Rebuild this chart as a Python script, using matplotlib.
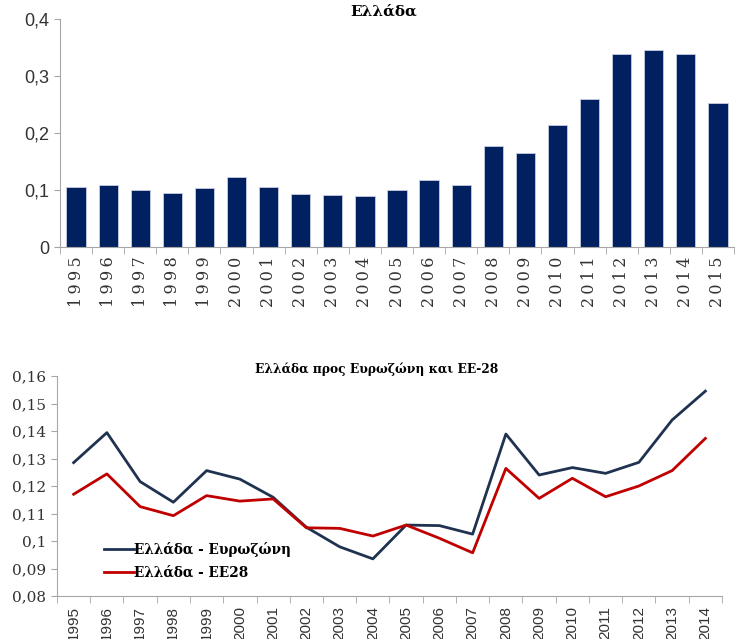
import matplotlib
matplotlib.use("Agg")
import matplotlib.pyplot as plt
from matplotlib.ticker import FixedLocator
import numpy as np

# top chart data
barYears = [str(y) for y in range(1995, 2016)]
barValues = [0.105, 0.108, 0.100, 0.095, 0.103, 0.123, 0.106, 0.093, 0.091, 0.089,
             0.100, 0.117, 0.108, 0.177, 0.165, 0.214, 0.260, 0.339, 0.346, 0.339, 0.253]
barTicks = [0, 0.1, 0.2, 0.3, 0.4]
barTickLabels = ["0", "0,1", "0,2", "0,3", "0,4"]

# bottom chart data
lineYears = [str(y) for y in range(1995, 2015)]
euroZone = [0.1285, 0.1394, 0.1216, 0.1141, 0.1256, 0.1225, 0.1159, 0.1050, 0.0979, 0.0935,
            0.1058, 0.1056, 0.1025, 0.1389, 0.1240, 0.1267, 0.1246, 0.1286, 0.1440, 0.1545]
eu28 = [0.1170, 0.1244, 0.1125, 0.1092, 0.1165, 0.1145, 0.1153, 0.1048, 0.1046, 0.1018,
        0.1058, 0.1010, 0.0957, 0.1264, 0.1155, 0.1228, 0.1161, 0.1200, 0.1256, 0.1373]
lineTicks = [0.08, 0.09, 0.10, 0.11, 0.12, 0.13, 0.14, 0.15, 0.16]
lineTickLabels = ["0,08", "0,09", "0,1", "0,11", "0,12", "0,13", "0,14", "0,15", "0,16"]

W, H = 739, 639
fig = plt.figure(figsize=(W / 100, H / 100), dpi=100)

axisColor = "#a6a6a6"

def styleAxis(ax, n):
    for s in ["top", "right"]:
        ax.spines[s].set_visible(False)
    ax.spines["left"].set_color(axisColor)
    ax.spines["bottom"].set_color(axisColor)
    ax.set_xlim(-0.5, n - 0.5)
    ax.set_xticks(range(n))
    ax.tick_params(axis="x", which="major", length=0, pad=7)
    ax.xaxis.set_minor_locator(FixedLocator(np.arange(-0.5, n, 1.0)))
    ax.tick_params(axis="x", which="minor", length=5, color=axisColor)
    ax.tick_params(axis="y", length=4, color=axisColor, pad=4)

# --- top: bar chart ---
ax1 = fig.add_axes([60 / W, 1 - 247 / H, (734 - 60) / W, (247 - 19) / H])
ax1.bar(range(len(barYears)), barValues, width=0.6, color="#002060", edgecolor="#c9cde0", linewidth=0.6)
styleAxis(ax1, len(barYears))
ax1.set_ylim(0, 0.4)
ax1.set_yticks(barTicks)
ax1.set_yticklabels(barTickLabels, family=["Liberation Sans Narrow", "Liberation Sans"], fontsize=13, color="#333333")
# the years in the top chart are letter-spaced
spaced = ["\u2009".join(y) for y in barYears]
ax1.set_xticklabels(spaced, rotation=90, family="DejaVu Serif", fontsize=11.5, color="#333333")
ax1.set_title("Ελλάδα", family="DejaVu Serif", fontweight="bold", fontsize=11, pad=-2, x=0.48)

# --- bottom: line chart ---
ax2 = fig.add_axes([57 / W, 43 / H, (722 - 57) / W, (596 - 376) / H])
x = range(len(lineYears))
ax2.plot(x, euroZone, color="#1f3350", linewidth=2, label="Ελλάδα - Ευρωζώνη")
ax2.plot(x, eu28, color="#c00000", linewidth=2, label="Ελλάδα - ΕΕ28")
styleAxis(ax2, len(lineYears))
ax2.set_ylim(0.08, 0.16)
ax2.set_yticks(lineTicks)
ax2.set_yticklabels(lineTickLabels, family="DejaVu Serif", fontsize=11, color="#333333")
ax2.set_xticklabels(lineYears, rotation=90, family="Liberation Sans", fontsize=11, color="#333333")
ax2.set_title("Ελλάδα προς Ευρωζώνη και ΕΕ-28", family="DejaVu Serif", fontweight="bold", fontsize=8.8, pad=-4, x=0.48)
ax2.legend(loc="upper left", bbox_to_anchor=(0.053, 0.30), frameon=False, handlelength=2.2,
           handletextpad=0.0, labelspacing=0.65,
           prop={"family": "DejaVu Serif", "weight": "bold", "size": 9.8})

fig.savefig("out.png", dpi=100)
